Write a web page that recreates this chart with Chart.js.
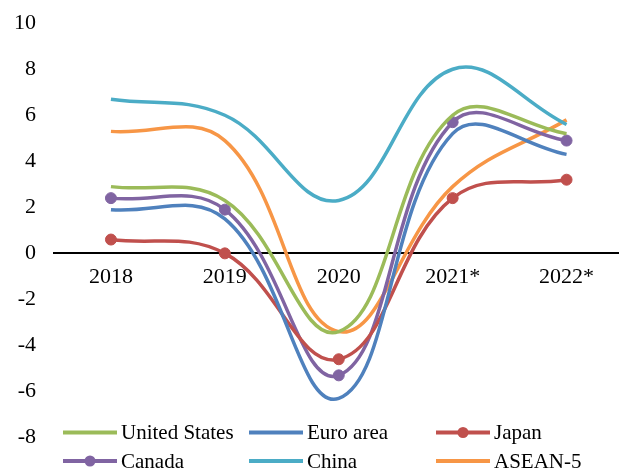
<!DOCTYPE html>
<html>
<head>
<meta charset="utf-8">
<script src="https://cdn.jsdelivr.net/npm/chart.js@4.4.1/dist/chart.umd.min.js"></script>
<style>
html,body{margin:0;padding:0;overflow:hidden;background:#fff;}
#wrap{width:630px;height:469px;position:relative;}
canvas{display:block;}
</style>
</head>
<body>
<div id="wrap"><canvas id="c" width="630" height="469"></canvas></div>
<script>
// ---- data ----
const categories = ['2018', '2019', '2020', '2021*', '2022*'];
const seriesNames = ['United States', 'Euro area', 'Japan', 'Canada', 'China', 'ASEAN-5'];
const unitedStates = [2.9, 2.3, -3.4, 6.0, 5.2];
const euroArea     = [1.9, 1.5, -6.3, 5.2, 4.3];
const japan        = [0.6, 0.0, -4.6, 2.4, 3.2];
const canada       = [2.4, 1.9, -5.3, 5.7, 4.9];
const china        = [6.7, 6.0, 2.3, 8.0, 5.6];
const asean5       = [5.3, 4.9, -3.4, 2.9, 5.8];
const yTicks = [-8, -6, -4, -2, 0, 2, 4, 6, 8, 10];

const colors = ['#9BBB59', '#4F81BD', '#C0504D', '#8064A2', '#4BACC6', '#F79646'];
const withMarkers = [false, false, true, true, false, false];
const values = [unitedStates, euroArea, japan, canada, china, asean5];
const FONT = '"Liberation Serif", "Times New Roman", serif';

const datasets = values.map((v, i) => ({
  label: seriesNames[i],
  data: v,
  borderColor: colors[i],
  backgroundColor: colors[i],
  borderWidth: 3.5,
  tension: 0.4,
  fill: false,
  pointRadius: withMarkers[i] ? 5.5 : 0,
  pointHoverRadius: withMarkers[i] ? 5.5 : 0,
  pointBorderWidth: 1,
  pointBackgroundColor: colors[i],
  pointBorderColor: colors[i]
}));

const gridLegend = {
  id: 'gridLegend',
  afterDraw(chart) {
    const ctx = chart.ctx;
    const colX = [63, 249, 436];
    const rowY = [432.5, 461];
    chart.data.datasets.forEach((ds, i) => {
      const x = colX[i % 3], y = rowY[Math.floor(i / 3)];
      ctx.save();
      ctx.strokeStyle = ds.borderColor;
      ctx.lineWidth = 4;
      ctx.lineCap = 'butt';
      ctx.beginPath(); ctx.moveTo(x, y); ctx.lineTo(x + 54, y); ctx.stroke();
      if (ds.pointRadius > 0) {
        ctx.fillStyle = ds.borderColor;
        ctx.beginPath(); ctx.arc(x + 27, y, 5.5, 0, Math.PI * 2); ctx.fill();
      }
      ctx.fillStyle = '#000';
      ctx.font = '21px ' + FONT;
      ctx.textBaseline = 'middle';
      ctx.textAlign = 'left';
      ctx.fillText(ds.label, x + 58, y + 1);
      ctx.restore();
    });
  }
};

new Chart(document.getElementById('c'), {
  type: 'line',
  data: { labels: categories, datasets },
  plugins: [gridLegend],
  options: {
    responsive: false,
    animation: false,
    devicePixelRatio: 1,
    layout: { padding: { top: 23, bottom: 31.5, left: 0, right: 0 } },
    plugins: { legend: { display: false }, tooltip: { enabled: false } },
    scales: {
      x: {
        type: 'category',
        offset: true,
        position: { y: 0 },
        grid: { display: false },
        border: { display: true, color: '#000', width: 2 },
        ticks: { color: '#000', font: { family: FONT, size: 22 }, padding: 3, maxRotation: 0, autoSkip: false }
      },
      y: {
        min: -8, max: 10,
        afterBuildTicks: s => { s.ticks = yTicks.map(v => ({ value: v })); },
        afterFit: s => { s.width = 54; },
        grid: { display: false },
        border: { display: false },
        ticks: { color: '#000', font: { family: FONT, size: 22 }, padding: 10 }
      }
    }
  }
});
</script>
</body>
</html>
